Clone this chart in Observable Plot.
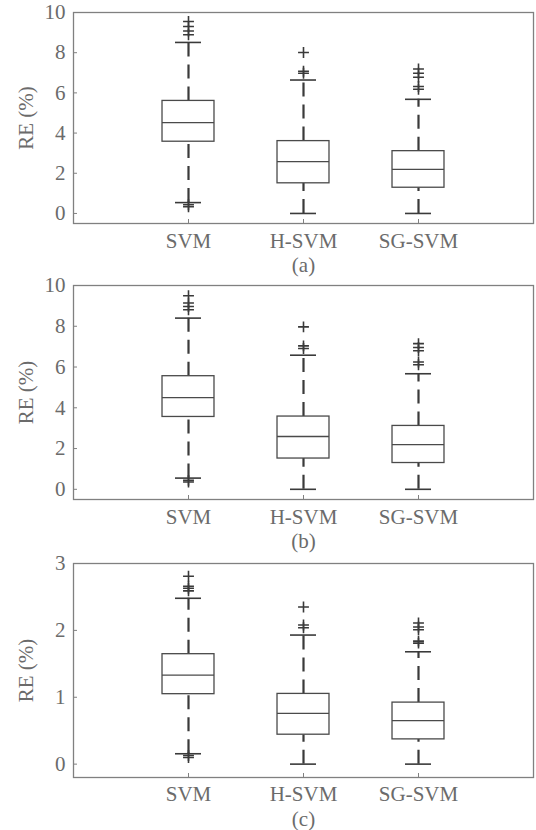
<!DOCTYPE html>
<html><head><meta charset="utf-8">
<script src="https://cdn.jsdelivr.net/npm/d3@7"></script>
<script src="https://cdn.jsdelivr.net/npm/@observablehq/plot@0.6"></script>
<style>body{margin:0;background:#fff} #chart svg{display:block}</style>
</head><body><div id="chart"></div>
<script>
const methods = ["SVM", "H-SVM", "SG-SVM"];
const positions = [1, 2, 3];
const yLabel = "RE (%)";

// Panel (a)
const aQ1 = [3.57, 1.50, 1.28];
const aMedian = [4.52, 2.58, 2.19];
const aQ3 = [5.60, 3.60, 3.10];
const aLower = [0.54, 0.00, 0.00];
const aUpper = [8.51, 6.64, 5.68];
const aOutSVM = [9.55, 9.30, 9.08, 8.89, 0.43, 0.33];
const aOutHSVM = [8.01, 7.08, 6.98];
const aOutSGSVM = [7.19, 6.98, 6.78, 6.32, 6.18];
const aTicks = [0, 2, 4, 6, 8, 10];

// Panel (b)
const bQ1 = [3.55, 1.51, 1.29];
const bMedian = [4.50, 2.59, 2.19];
const bQ3 = [5.55, 3.57, 3.11];
const bLower = [0.55, 0.00, 0.00];
const bUpper = [8.40, 6.58, 5.67];
const bOutSVM = [9.50, 9.14, 8.97, 8.81, 0.44, 0.36];
const bOutHSVM = [7.97, 7.04, 6.91];
const bOutSGSVM = [7.15, 6.96, 6.80, 6.25, 6.11];
const bTicks = [0, 2, 4, 6, 8, 10];

// Panel (c)
const cQ1 = [1.046, 0.44, 0.37];
const cMedian = [1.33, 0.76, 0.65];
const cQ3 = [1.644, 1.05, 0.92];
const cLower = [0.155, 0.00, 0.00];
const cUpper = [2.48, 1.93, 1.68];
const cOutSVM = [2.81, 2.66, 2.63, 2.59, 0.13, 0.10];
const cOutHSVM = [2.35, 2.08, 2.04];
const cOutSGSVM = [2.11, 2.05, 2.01, 1.84, 1.81];
const cTicks = [0, 1, 2, 3];

const textColor = "#6b6b6b";
const frameColor = "#808080";
const boxColor = "#4a4a4a";
const whiskColor = "#3a3a3a";
const fontFamily = '"Liberation Serif", "Times New Roman", serif';
const fontSize = 21;
const halfBox = 0.226, halfCap = 0.113;

function panel({q1, median, q3, lower, upper, outliers, yDomain, yTicks, caption, captionOffset, labelPadding, height, marginTop, marginBottom}) {
  const stats = methods.map((m, i) => ({method: m, pos: positions[i], q1: q1[i], median: median[i], q3: q3[i], lower: lower[i], upper: upper[i]}));
  const outs = methods.flatMap((m, i) => outliers[i].map(v => ({pos: positions[i], value: v})));
  return Plot.plot({
    width: 536, height, marginTop, marginBottom, marginLeft: 73, marginRight: 3,
    style: {fontFamily, fontSize: fontSize + "px", color: frameColor, background: "#fff", overflow: "visible"},
    x: {domain: [0, 4]},
    y: {domain: yDomain},
    marks: [
      Plot.ruleX(stats, {x: "pos", y1: "q3", y2: "upper", stroke: whiskColor, strokeWidth: 2.2, strokeDasharray: "14,8"}),
      Plot.ruleX(stats, {x: "pos", y1: "lower", y2: "q1", stroke: whiskColor, strokeWidth: 2.2, strokeDasharray: "14,8"}),
      Plot.ruleY(stats, {y: "upper", x1: d => d.pos - halfCap, x2: d => d.pos + halfCap, stroke: whiskColor, strokeWidth: 1.6}),
      Plot.ruleY(stats, {y: "lower", x1: d => d.pos - halfCap, x2: d => d.pos + halfCap, stroke: whiskColor, strokeWidth: 1.6}),
      Plot.rect(stats, {x1: d => d.pos - halfBox, x2: d => d.pos + halfBox, y1: "q1", y2: "q3", fill: "white", stroke: boxColor, strokeWidth: 1.3}),
      Plot.ruleY(stats, {y: "median", x1: d => d.pos - halfBox, x2: d => d.pos + halfBox, stroke: boxColor, strokeWidth: 1.3}),
      Plot.dot(outs, {x: "pos", y: "value", symbol: "plus", r: 3.6, stroke: whiskColor, strokeWidth: 1.6}),
      Plot.frame({stroke: frameColor, strokeWidth: 1.3}),
      Plot.axisY({ticks: yTicks, tickFormat: d => String(d), tickSize: -4, tickPadding: 12, stroke: frameColor, fill: textColor,
        fontFamily, fontSize, label: yLabel, labelAnchor: "center", labelOffset: 55, labelArrow: "none"}),
      Plot.axisX({ticks: positions, tickFormat: d => methods[positions.indexOf(d)], tickSize: -4, tickPadding: labelPadding, stroke: frameColor, fill: textColor,
        fontFamily, fontSize, label: null}),
      Plot.text([caption], {text: d => d, frameAnchor: "bottom", lineAnchor: "bottom", dy: captionOffset, fill: textColor, fontFamily, fontSize})
    ]
  });
}

const chart = document.getElementById("chart");
chart.append(panel({q1: aQ1, median: aMedian, q3: aQ3, lower: aLower, upper: aUpper,
  outliers: [aOutSVM, aOutHSVM, aOutSGSVM], yDomain: [-0.5, 10], yTicks: aTicks, caption: "(a)", captionOffset: 48, labelPadding: 14,
  height: 276, marginTop: 12, marginBottom: 53}));
chart.append(panel({q1: bQ1, median: bMedian, q3: bQ3, lower: bLower, upper: bUpper,
  outliers: [bOutSVM, bOutHSVM, bOutSGSVM], yDomain: [-0.5, 10], yTicks: bTicks, caption: "(b)", captionOffset: 48, labelPadding: 14,
  height: 276, marginTop: 9, marginBottom: 53}));
chart.append(panel({q1: cQ1, median: cMedian, q3: cQ3, lower: cLower, upper: cUpper,
  outliers: [cOutSVM, cOutHSVM, cOutSGSVM], yDomain: [-0.2, 3], yTicks: cTicks, caption: "(c)", captionOffset: 48, labelPadding: 13,
  height: 278, marginTop: 11, marginBottom: 53}));
</script>
</body></html>
